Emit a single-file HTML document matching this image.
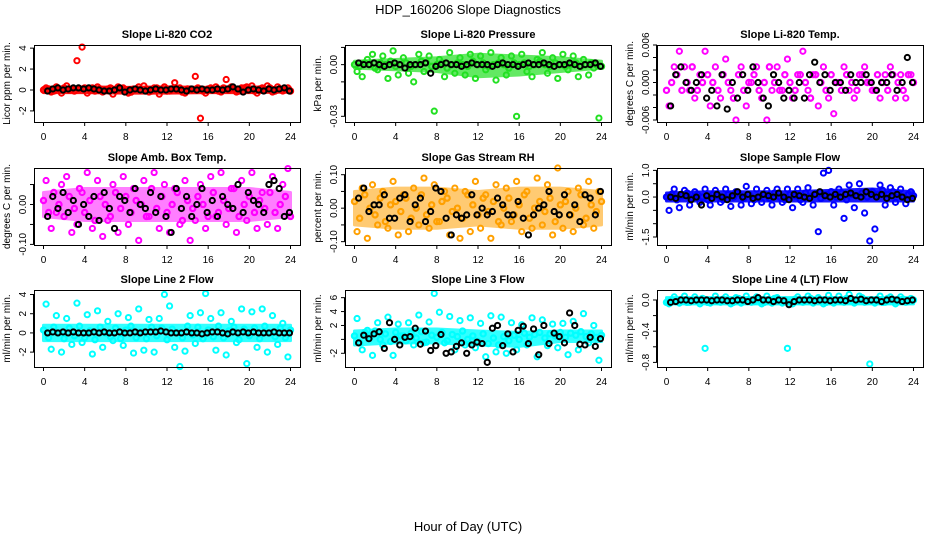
<!DOCTYPE html>
<html><head><meta charset="utf-8"><style>
body{margin:0;background:#fff;}
svg{display:block;font-family:"Liberation Sans",sans-serif;}
</style></head><body>
<svg id="chart" width="936" height="540" viewBox="0 0 936 540" xmlns="http://www.w3.org/2000/svg">
<rect width="936" height="540" fill="#fff"/>
<text x="468" y="14" text-anchor="middle" font-size="13">HDP_160206  Slope Diagnostics</text>
<text x="468" y="531" text-anchor="middle" font-size="13">Hour of Day (UTC)</text>
</svg>
<script>
const H=[0,0.5,1,1.5,2,2.5,3,3.5,4,4.5,5,5.5,6,6.5,7,7.5,8,8.5,9,9.5,10,10.5,11,11.5,12,12.5,13,13.5,14,14.5,15,15.5,16,16.5,17,17.5,18,18.5,19,19.5,20,20.5,21,21.5,22,22.5,23,23.5,24];
const Q=[0.25,0.75,1.25,1.75,2.25,2.75,3.25,3.75,4.25,4.75,5.25,5.75,6.25,6.75,7.25,7.75,8.25,8.75,9.25,9.75,10.25,10.75,11.25,11.75,12.25,12.75,13.25,13.75,14.25,14.75,15.25,15.75,16.25,16.75,17.25,17.75,18.25,18.75,19.25,19.75,20.25,20.75,21.25,21.75,22.25,22.75,23.25,23.75];
const B=[0.4,0.9,1.4,1.9,2.4,2.9,3.4,3.9,4.4,4.9,5.4,5.9,6.4,6.9,7.4,7.9,8.4,8.9,9.4,9.9,10.4,10.9,11.4,11.9,12.4,12.9,13.4,13.9,14.4,14.9,15.4,15.9,16.4,16.9,17.4,17.9,18.4,18.9,19.4,19.9,20.4,20.9,21.4,21.9,22.4,22.9,23.4,23.9];
const xTicks=[0,4,8,12,16,20,24];

const titles=["Slope Li-820 CO2","Slope Li-820 Pressure","Slope Li-820 Temp.","Slope Amb. Box Temp.","Slope Gas Stream RH","Slope Sample Flow","Slope Line 2 Flow","Slope Line 3 Flow","Slope Line 4 (LT) Flow"];
const yTitles=["Licor ppm per min.","kPa per min.","degrees C per min.","degrees C per min.","percent per min.","ml/min per min.","ml/min per min.","ml/min per min.","ml/min per min."];
const colors=["#ff0000","#22e022","#ff00ff","#ff00ff","#ffa000","#0000ff","#00ffff","#00ffff","#00ffff"];
const bandOpacity=[0.9,0.7,0,0.5,0.55,0.9,0.8,0.8,0.9];
const yMin=[-3.06,-33.3,-6.32,-10.15,-11,-1.8,-3.55,-3.97,-0.859];
const yMax=[4.3,11.4,6,9.14,12,1.09,4.47,7.1,0.128];
const yTicks=[[-2,0,2,4],[10,0,-10,-20,-30],[6,4,2,0,-2,-4,-6],[5,0,-5,-10],[10,5,0,-5,-10],[1,0.5,0,-0.5,-1,-1.5],[4,2,0,-2],[6,4,2,0,-2],[0,-0.2,-0.4,-0.6,-0.8]];
const yLabels=[["-2","0","2","4"],["","0.00","","","-0.03"],["0.006","","","0.000","","","-0.006"],["","0.00","","-0.10"],["0.10","","0.00","","-0.10"],["1.0","","0.0","","","-1.5"],["4","2","0","-2"],["6","4","2","","-2"],["0.0","","-0.4","","-0.8"]];

const bandHi0=[0.25,0.3,0.25,0.3,0.25,0.3,0.2], bandLo0=[-0.25,-0.25,-0.3,-0.3,-0.25,-0.25,-0.2];
const bandHi1=[2,3,4,6,5,4,2], bandLo1=[-2,-3,-4,-7,-6,-4,-2];
const bandHi2=[0,0,0,0,0,0,0], bandLo2=[0,0,0,0,0,0,0];
const bandHi3=[3,4,4,4,4,4,3], bandLo3=[-3,-4,-4,-4,-4,-4,-3];
const bandHi4=[5,6,6,5,6,6,5], bandLo4=[-5,-6,-6,-5,-6,-6,-5];
const bandHi5=[0.15,0.2,0.2,0.2,0.25,0.3,0.2], bandLo5=[-0.15,-0.15,-0.15,-0.15,-0.15,-0.15,-0.15];
const bandHi6=[0.8,0.8,0.8,0.8,0.8,0.8,0.8], bandLo6=[-0.8,-0.8,-0.8,-0.8,-0.8,-0.8,-0.8];
const bandHi7=[1.2,1.5,1.5,1.2,1,1.2,1.2], bandLo7=[-0.8,-0.5,-0.5,-0.8,-1,-0.3,-0.3];
const bandHi8=[0.03,0.03,0.03,0.03,0.03,0.03,0.03], bandLo8=[-0.05,-0.05,-0.05,-0.05,-0.05,-0.05,-0.05];
const bandHis=[bandHi0,bandHi1,bandHi2,bandHi3,bandHi4,bandHi5,bandHi6,bandHi7,bandHi8];
const bandLos=[bandLo0,bandLo1,bandLo2,bandLo3,bandLo4,bandLo5,bandLo6,bandLo7,bandLo8];

const core0=[0,0.1,-0.1,0.1,0.2,0,-0.1,0.1,0.2,0,-0.1,0.1,0,0.2,-0.1,0.1,0,-0.2,0.1,0,0.1,-0.1,0.2,0,-0.1,0.1,0,-0.2,0.1,0,0.2,-0.1,0.1,0,-0.1,0.2,0,0.1,-0.1,0.2,0,-0.1,0.1,0,0.2,-0.1,0.1,0,-0.1];
const spread0=[0.2,-0.2,0.3,-0.3,0.4,0.1,2.8,4.1,-0.3,0.2,0.3,-0.2,0.1,-0.4,0.3,0.2,-0.3,0.1,0.3,0.4,-0.2,0.2,-0.4,0.3,-0.1,0.7,0.2,-0.3,0.1,1.3,-2.7,-0.3,0.2,0.3,-0.2,1.0,0.3,-0.2,0.2,0.3,0.4,-0.3,0.2,0.4,-0.2,0.3,-0.1,0.2];
const black0=[-0.1,0.1,0.2,0,0.1,0.2,0.2,0.1,0.2,0.1,0,-0.1,-0.1,0,0.2,-0.2,0,0.1,0,-0.1,0,0.1,0,0,0.1,0.1,0,-0.1,0.1,0,0.1,0,0,0.1,0,0.1,0.3,0.1,-0.2,0,0.1,0,-0.1,0.1,0,0.1,0.2,-0.1];

const core1=[0,-1,1,0,-2,1,0,2,-1,0,1,-1,0,2,1,-1,0,1,-2,0,1,0,-1,2,0,1,-1,0,1,0,-2,1,0,1,-1,0,2,0,-1,1,0,-1,0,1,-1,0,1,0,-1];
const spread1=[-4,-7,3,6,-3,5,-8,8,-6,4,-5,-10,6,-4,5,-27,3,-7,7,-5,4,-6,6,-8,5,-3,7,-9,4,-6,5,-30,6,-4,-7,3,7,-5,4,-8,6,-3,5,-7,3,-6,-2,-31];
const black1=[1,0,0,1,0,-1,0,1,0,-2,0,0,0,1,-5,-1,0,1,0,0,-1,0,1,0,0,0,-1,0,1,0,0,-1,0,1,0,0,1,0,-1,0,0,1,0,-1,0,0,1,-1];

const core2=[-1.25,0,1.25,-1.25,0,2.5,-1.25,0,1.25,0,-1.25,1.25,0,-2.5,1.25,-1.25,0,1.25,-1.25,0,2.5,0,-1.25,1.25,0,-1.25,1.25,0,-2.5,1.25,0,-1.25,1.25,0,-1.25,1.25,0,-1.25,1.25,0,-1.25,1.25,0,-1.25,1.25,0,-1.25,1.25,0];
const spread2=[-3.75,2.5,5,2.5,-1.25,-2.5,1.25,5,-3.75,2.5,-2.5,3.75,-1.25,-6,2.5,-3.75,0,2.5,-2.5,-6,-1.25,2.5,-1.25,3.75,-2.5,1.25,5,-1.25,1.25,-3.75,2.5,-2.5,-5,0,2.5,-1.25,-2.5,1.25,2.5,0,-1.25,-2.5,1.25,2.5,-2.5,1.25,-2.5,1.25];
const black2=[-3.75,1.25,2.5,0,-1.25,0,1.25,-2.5,-1.25,-3.75,1.25,-4.25,0,-2.5,1.25,-1.25,2.5,0,-2.5,-3.75,1.25,0,-2.5,-1.25,-2.5,0,-2.5,1.25,3.25,0,1.25,-1.25,0,0,-1.25,1.25,0,0,1.25,0,-1.25,0,0,1.25,-1.25,0,4,0];

const core3=[1,-2,3,0,-3,2,-1,4,-2,1,-4,2,0,-3,3,-1,2,-2,1,0,-3,4,-1,2,-2,0,3,-4,1,-1,2,0,-3,3,-2,1,-1,4,-3,0,2,-2,1,-1,3,-2,0,2,-3];
const spread3=[6,-6,-2,5,7,-7,-5,3,8,-6,6,-8,-4,5,-7,7,-5,4,-9,6,-3,8,-6,5,-7,4,-5,6,-9,-4,5,-6,7,-3,8,-5,4,-7,6,-4,8,-6,3,-5,7,-6,5,9];
const black3=[-3,2,-1,3,-2,1,-5,0,-3,2,-4,3,-1,-6,2,1,-2,4,0,-1,3,-2,2,-3,-7,4,-1,2,-3,0,4,-2,1,-3,2,0,-1,5,-2,3,1,0,-2,5,6,4,-3,-2];

const core4=[2,-3,4,0,-2,3,-4,1,2,-1,3,-3,0,4,-2,1,-4,2,3,-1,0,-3,4,1,-2,3,-1,2,-4,0,3,-2,1,4,-3,0,2,-1,3,-4,1,2,-2,0,4,-3,1,-1,2];
const spread4=[-7,6,-9,7,-5,5,-6,8,-8,4,-7,6,-5,9,-6,7,-4,5,-8,6,-9,5,-7,8,-6,4,-9,7,-5,6,-4,8,-7,5,-6,9,-5,7,-8,12,-6,5,-7,6,-5,8,-6,5];
const black4=[3,6,-1,1,1,4,-3,-3,3,4,-4,1,3,-4,-1,6,5,-3,-8,-2,-3,-2,4,-2,0,-2,-1,3,1,-2,-2,2,-3,-8,-2,0,1,5,-1,-2,4,-2,1,-4,4,3,-2,5];

const core5=[0,0.1,-0.1,0.05,0.15,-0.05,0.1,0,-0.1,0.1,0.05,-0.1,0.1,0,0.15,-0.05,0.1,-0.1,0,0.1,-0.05,0.15,0,-0.1,0.1,0.05,-0.1,0.15,0,0.1,-0.05,0.1,0.2,0,0.15,-0.1,0.1,0.05,0.15,0,0.2,0.1,0.25,0.1,0.2,0.15,0,0.1,0.05];
const spread5=[-0.5,0.3,-0.4,0.25,-0.3,0.2,-0.2,0.3,-0.3,0.25,-0.2,0.3,-0.35,0.2,-0.3,0.4,-0.25,0.3,-0.2,0.25,-0.3,0.3,-0.2,0.3,-0.4,0.3,-0.2,0.35,-0.3,-1.3,0.9,1.0,-0.3,0.3,-0.8,0.45,-0.4,0.5,-0.6,-1.65,-1.2,0.45,-0.3,0.35,-0.2,0.3,-0.25,0.2];
const black5=[0,-0.05,0.1,0.05,-0.1,0,-0.3,0.05,-0.05,0.1,0,-0.1,0.05,0.2,0,0.1,-0.05,0,0.1,0.05,0,0.15,0,-0.1,0.1,0.05,0,-0.05,0.1,0.2,0.05,0,0.1,0,0.1,0.15,0.05,0,0.2,0.1,0,0.1,-0.05,0.05,0.1,0,-0.1,-0.05];

const core6=[0.3,-0.5,0.6,0,-0.6,0.5,-0.3,0.7,-0.5,0.2,-0.7,0.6,0,-0.4,0.5,-0.6,0.3,0.7,-0.5,0.1,-0.6,0.6,-0.3,0.5,-0.7,0.4,0,-0.5,0.7,-0.2,0.6,-0.6,0.3,-0.4,0.7,-0.5,0.2,0.6,-0.7,0.4,-0.3,0.5,-0.6,0.7,0,-0.4,0.5,-0.5,0.3];
const spread6=[3,-1.7,1.8,-2,1.5,-1.2,3.1,-1,1.9,-2.2,2.3,-1.5,1.2,-0.8,2,-1.3,1.6,-2.1,2.5,-1.8,1.4,-2,1.5,4,2.8,-1.5,-3.5,-1.9,1.8,-1.1,2.1,4.1,1.5,-1.8,2.1,-2.3,1.2,-1,2.5,-3.2,2.2,-1.5,2.5,-2,1.8,-1.2,1,-2.5];
const black6=[0,0.1,0,0.1,0,0.1,0,0,0,0.1,0,0.1,0,0,0.1,0,0,0.1,0,0.1,0.1,0.1,0.2,0.1,0,0,0,0.1,0,0,-0.1,0,0.1,0.1,0,-0.1,0.1,0,0.1,0,0.1,0,0,0,0.1,0,0,0];

const core7=[0.5,-0.5,1,0.3,1.2,0,0.8,-0.3,1,0.5,-0.2,0.9,0.2,1.1,-0.4,0.6,0.3,1,-0.2,0.7,0.4,1.2,0,0.5,-0.3,0.8,-0.6,0.2,-0.8,0.4,-0.2,0.6,0,0.9,0.3,0.7,1,0.2,0.8,0.5,1,0.3,0.9,0.6,1.1,0.4,0.8,0.3,0.6];
const spread7=[3,-1.5,1.3,-2.3,2.4,-0.8,3.2,-2.3,2.2,0.5,2.4,-0.8,3.5,-0.5,2.5,6.6,3.9,-0.5,3.3,-1.5,2.7,-0.8,3.1,-1.2,2.3,-2.5,3.4,-1.8,3.2,-2,2.4,-1.5,2.1,-0.8,3.1,-2.5,2.8,-0.9,2.2,-1.2,2.3,-2.2,2.6,-1.5,3.7,-0.5,2,-3];
const black7=[-0.5,0.6,0.1,0.8,1.1,-1.3,2.4,0,-0.8,0.3,0.4,1.6,-0.7,1.2,-1.6,-0.9,0.7,-2,-1.8,-1,-0.5,-2,-0.8,-0.4,-0.6,-3.3,1.6,2,-0.9,0.8,-1.8,1.3,1.9,-0.6,1.5,-2.2,2,-0.6,0.9,0.4,-0.5,3.8,2,-0.7,-0.8,0.3,-1,0.1];

const core8=[-0.03,0,-0.02,0.01,-0.03,0,-0.01,0.02,-0.03,0,-0.02,0.01,0,-0.03,0.02,-0.01,0,-0.02,0.01,-0.03,0,0.02,-0.01,0,-0.03,0.01,-0.02,0,0.02,-0.01,0,-0.03,0.01,0,-0.02,0.02,-0.01,0,0.03,-0.02,0,0.01,-0.03,0.02,0,-0.01,0.01,-0.02,0];
const spread8=[-0.05,0.04,-0.04,0.05,-0.03,0.04,-0.05,-0.62,-0.04,0.05,-0.03,0.04,-0.05,0.03,-0.04,0.05,-0.03,0.04,-0.05,0.05,-0.04,0.03,-0.04,-0.62,-0.05,0.04,-0.03,0.05,-0.04,0.03,-0.05,0.06,-0.04,0.05,-0.03,0.07,-0.04,0.05,-0.03,-0.82,-0.04,0.05,-0.03,0.04,-0.05,0.04,-0.03,0.02];
const black8=[-0.03,-0.02,0,0,-0.01,0,0,0,-0.01,0,0,-0.01,-0.01,0,0,-0.02,0,0.03,0,0,-0.02,0,-0.01,-0.06,-0.02,0,0,0,-0.01,0,0,-0.01,0,0,-0.01,0.02,0,0.01,-0.01,0,0,-0.02,0,0.01,0,-0.02,-0.01,0];

const cores=[core0,core1,core2,core3,core4,core5,core6,core7,core8];
const spreads=[spread0,spread1,spread2,spread3,spread4,spread5,spread6,spread7,spread8];
const blacks=[black0,black1,black2,black3,black4,black5,black6,black7,black8];

const NS="http://www.w3.org/2000/svg";
const svg=document.getElementById('chart');
const colLeft=[34,345,657], rowTop=[45,168,290], W=266, Hh=77;
function mk(tag,attrs,parent){const e=document.createElementNS(NS,tag);for(const k in attrs)e.setAttribute(k,attrs[k]);parent.appendChild(e);return e;}

for(let p=0;p<9;p++){
  const L=colLeft[p%3], T=rowTop[Math.floor(p/3)], Bt=T+Hh;
  const g=mk('g',{},svg);
  
  
  const xs=v=>L+9.5+v*(W-19)/24;
  const ys=v=>Bt-(v-yMin[p])/(yMax[p]-yMin[p])*Hh;
  const t=mk('text',{x:L+W/2,y:T-7,'text-anchor':'middle','font-size':11,'font-weight':'bold'},g);
  t.textContent=titles[p];
  
  
  const yt=mk('text',{x:0,y:0,'text-anchor':'middle','font-size':10,transform:`translate(${L-24},${T+Hh/2}) rotate(-90)`},g);
  yt.textContent=yTitles[p];
  
  
  const xa=mk('g',{stroke:'#000','stroke-width':1},g);
  
  
  mk('line',{x1:xs(0),x2:xs(24),y1:Bt+0.5,y2:Bt+0.5},xa);
  xTicks.forEach(v=>{
    mk('line',{x1:xs(v),x2:xs(v),y1:Bt,y2:Bt+4},xa);
    const tl=mk('text',{x:xs(v),y:Bt+18,'text-anchor':'middle','font-size':10,stroke:'none'},xa);
    tl.textContent=v;
    
    
  });
  const ya=mk('g',{stroke:'#000','stroke-width':1},g);
  
  
  const tk=yTicks[p];
  mk('line',{x1:L-0.5,x2:L-0.5,y1:ys(Math.max(...tk)),y2:ys(Math.min(...tk))},ya);
  tk.forEach((v,i)=>{
    mk('line',{x1:L-4,x2:L,y1:ys(v),y2:ys(v)},ya);
    if(yLabels[p][i]){
      const tl=mk('text',{x:0,y:0,'text-anchor':'middle','font-size':10,stroke:'none',transform:`translate(${L-8},${ys(v)}) rotate(-90)`},ya);
      tl.textContent=yLabels[p][i];
      
      
    }
  });
  const hi=bandHis[p], lo=bandLos[p];
  if(hi.some((v,i)=>v!==lo[i])){
    let d='';
    xTicks.forEach((h,i)=>{d+=(i?'L':'M')+xs(h)+','+ys(hi[i]);});
    for(let i=xTicks.length-1;i>=0;i--) d+='L'+xs(xTicks[i])+','+ys(lo[i]);
    d+='Z';
    const band=mk('path',{d:d,fill:colors[p],opacity:bandOpacity[p],stroke:colors[p],'stroke-width':3,'stroke-linejoin':'round'},g);
    
    
  }
  const pts=mk('g',{fill:'none'},g);
  
  
  spreads[p].forEach((v,i)=>{
    const c=mk('circle',{cx:xs(Q[i]),cy:ys(v),r:2.6,stroke:colors[p],'stroke-width':2},pts);
    
    
  });
  cores[p].forEach((v,i)=>{
    const c=mk('circle',{cx:xs(H[i]),cy:ys(v),r:2.6,stroke:colors[p],'stroke-width':2.2},pts);
    
    
  });
  const bp=mk('g',{fill:'none'},g);
  
  
  blacks[p].forEach((v,i)=>{
    const c=mk('circle',{cx:xs(B[i]),cy:ys(v),r:2.6,stroke:'#000','stroke-width':2},bp);
    
    
  });
  const box=mk('rect',{x:L+0.5,y:T+0.5,width:W,height:Hh,fill:'none',stroke:'#000','stroke-width':1},g);
  
  
}
</script>
</body></html>
